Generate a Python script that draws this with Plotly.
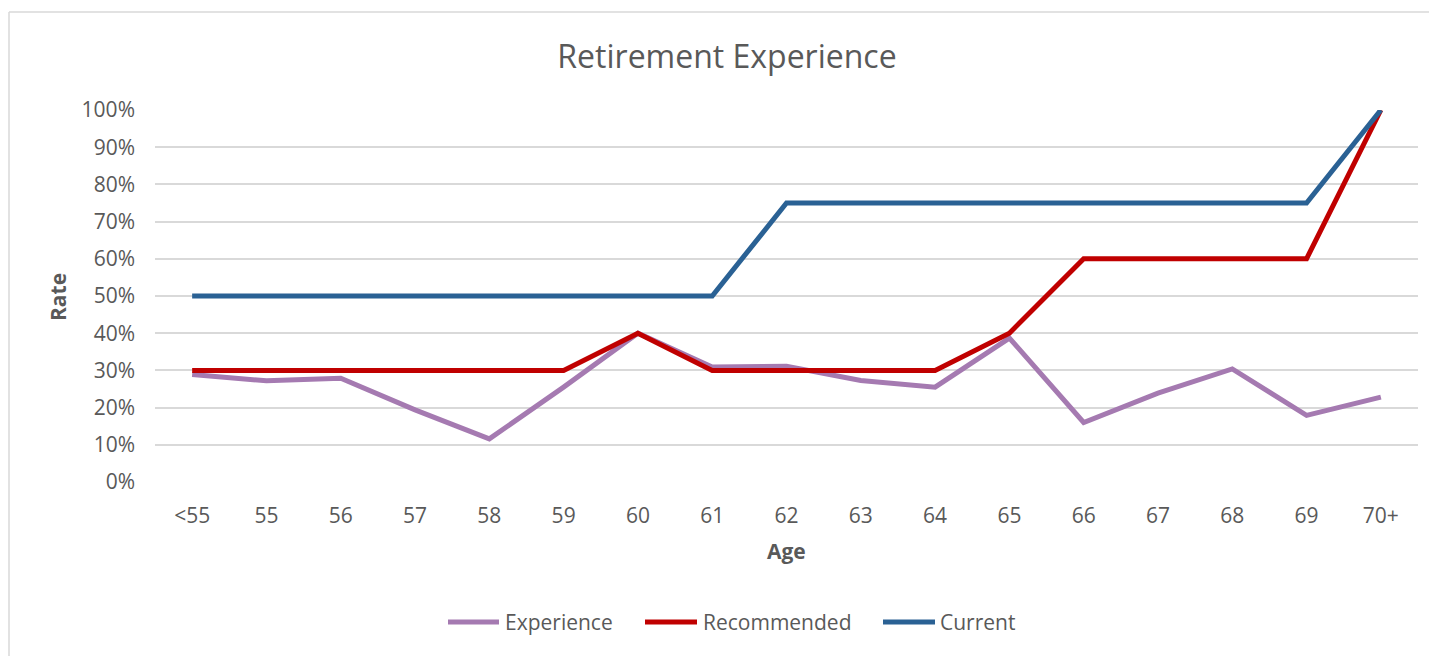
import plotly.graph_objects as go

ages = ["<55", "55", "56", "57", "58", "59", "60", "61", "62", "63", "64", "65", "66", "67", "68", "69", "70+"]
experience = [0.289, 0.272, 0.279, 0.194, 0.116, 0.255, 0.40, 0.309, 0.311, 0.273, 0.255, 0.387, 0.160, 0.239, 0.304, 0.179, 0.228]
recommended = [0.30, 0.30, 0.30, 0.30, 0.30, 0.30, 0.40, 0.30, 0.30, 0.30, 0.30, 0.40, 0.60, 0.60, 0.60, 0.60, 1.00]
current = [0.50, 0.50, 0.50, 0.50, 0.50, 0.50, 0.50, 0.50, 0.75, 0.75, 0.75, 0.75, 0.75, 0.75, 0.75, 0.75, 1.00]
y_ticks = [0, 0.1, 0.2, 0.3, 0.4, 0.5, 0.6, 0.7, 0.8, 0.9, 1.0]
y_labels = ["0%", "10%", "20%", "30%", "40%", "50%", "60%", "70%", "80%", "90%", "100%"]
series_names = ["Experience", "Recommended", "Current"]
series_colors = ["#A57AB1", "#C00000", "#2A6194"]

FONT = "Open Sans"
TXT = "#595959"
OFF = 8  # page body margin
W, H = 1429, 648
# target plot area in page pixels: x 155..1418, y 110..482
L = 155 - OFF
T = 110 - OFF
pw = 1418 - 155
ph = 482 - 110
R = W - L - pw
B = H - T - ph


def px_x(p):
    return (p - OFF - L) / pw


def px_y(p):
    return (T + ph - (p - OFF)) / ph


fig = go.Figure()
for name, vals, col in zip(series_names, [experience, recommended, current], series_colors):
    fig.add_trace(go.Scatter(x=ages, y=vals, name=name, mode="lines",
                             line=dict(color=col, width=5), cliponaxis=False,
                             showlegend=False))

# custom legend (line sample + label), positioned like the reference
legend_line_x = [(446, 501), (643, 699), (881, 937)]
legend_text_x = [503, 701, 938]
LEG_Y = 622
shapes = [
    dict(type="line", xref="paper", yref="paper", x0=px_x(9), y0=px_y(656),
         x1=px_x(9), y1=px_y(12), line=dict(color="#D9D9D9", width=1.5), layer="below"),
    dict(type="line", xref="paper", yref="paper", x0=px_x(9), y0=px_y(12),
         x1=px_x(1436), y1=px_y(12), line=dict(color="#D9D9D9", width=1.5), layer="below"),
]
annotations = [
    dict(text="<b>Age</b>", xref="paper", yref="paper", x=px_x(786), y=px_y(551),
         xanchor="center", yanchor="middle", showarrow=False, font=dict(size=21, color=TXT)),
    dict(text="<b>Rate</b>", xref="paper", yref="paper", x=px_x(58), y=px_y(297),
         xanchor="center", yanchor="middle", showarrow=False, textangle=-90,
         font=dict(size=21, color=TXT)),
]
for name, col, (a, b), tx in zip(series_names, series_colors, legend_line_x, legend_text_x):
    shapes.append(dict(type="line", xref="paper", yref="paper", x0=px_x(a + 2), x1=px_x(b - 2),
                       y0=px_y(LEG_Y), y1=px_y(LEG_Y), line=dict(color=col, width=5)))
    annotations.append(dict(text=name, xref="paper", yref="paper", x=px_x(tx), y=px_y(LEG_Y),
                            xanchor="left", yanchor="middle", showarrow=False,
                            font=dict(size=21, color=TXT)))

fig.update_layout(
    width=W, height=H,
    margin=dict(l=L, r=R, t=T, b=B),
    paper_bgcolor="white", plot_bgcolor="white",
    font=dict(family=FONT, color=TXT, size=21),
    title=dict(text="Retirement Experience", xref="paper", x=px_x(727), xanchor="center",
               yref="container", y=1 - (57 - OFF) / H, yanchor="middle",
               font=dict(size=32, color=TXT)),
    showlegend=False,
    xaxis=dict(type="category", range=[-0.5, 16.5], showgrid=False, zeroline=False,
               showline=False, ticks="", tickfont=dict(size=21, color=TXT),
               ticklabelstandoff=19),
    yaxis=dict(range=[0, 1], tickvals=y_ticks, ticktext=y_labels, showgrid=True,
               gridcolor="#D9D9D9", gridwidth=1.5, zeroline=False, showline=False,
               ticks="", tickfont=dict(size=21, color=TXT), ticklabelstandoff=19),
    annotations=annotations,
    shapes=shapes,
)

fig.write_html("out.html")
